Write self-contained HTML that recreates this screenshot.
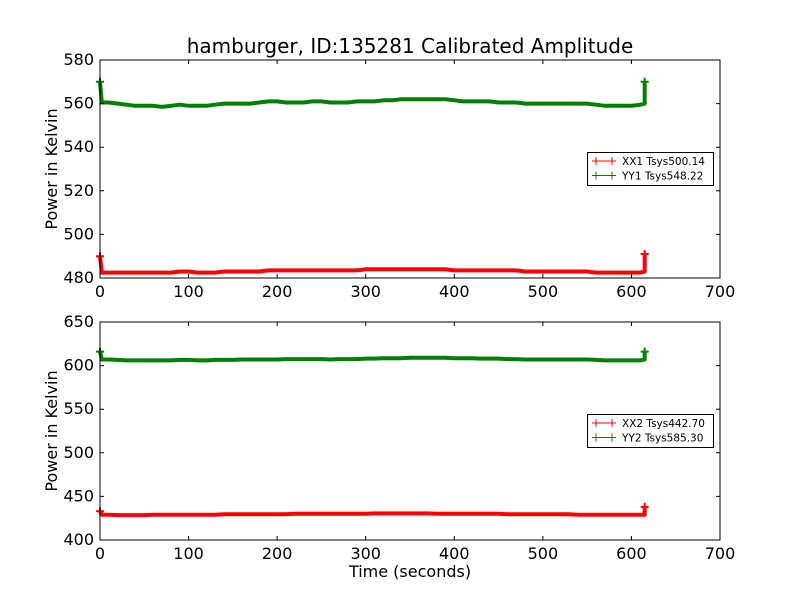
<!DOCTYPE html>
<html><head><meta charset="utf-8"><style>
body{margin:0;background:#fff;}
svg{display:block;font-family:"DejaVu Sans","Liberation Sans",sans-serif;}
</style></head><body>
<svg id="c" width="800" height="600"></svg>
<script>
const times=[0,2,10,20,30,40,50,60,70,80,90,100,110,120,130,140,150,160,170,180,190,200,210,220,230,240,250,260,270,280,290,300,310,320,330,340,350,360,370,380,390,400,410,420,430,440,450,460,470,480,490,500,510,520,530,540,550,560,570,580,590,600,610,615,615];
const yy1=[570,560.5,560.5,560,559.5,559,559,559,558.5,559,559.5,559,559,559,559.5,560,560,560,560,560.5,561,561,560.5,560.5,560.5,561,561,560.5,560.5,560.5,561,561,561,561.5,561.5,562,562,562,562,562,562,561.5,561,561,561,561,560.5,560.5,560.5,560,560,560,560,560,560,560,560,559.5,559,559,559,559,559.5,560,570];
const xx1=[490,482.5,482.5,482.5,482.5,482.5,482.5,482.5,482.5,482.5,483,483,482.5,482.5,482.5,483,483,483,483,483,483.5,483.5,483.5,483.5,483.5,483.5,483.5,483.5,483.5,483.5,483.5,484,484,484,484,484,484,484,484,484,484,483.5,483.5,483.5,483.5,483.5,483.5,483.5,483.5,483,483,483,483,483,483,483,483,482.5,482.5,482.5,482.5,482.5,482.5,483,491];
const yy2=[616,607,607,606.5,606,606,606,606,606,606,606.5,606.5,606,606,606.5,606.5,606.5,607,607,607,607,607,607.5,607.5,607.5,607.5,607.5,607,607.5,607.5,607.5,608,608,608.5,608.5,608.5,609,609,609,609,609,608.5,608.5,608.5,608,608,608,607.5,607.5,607,607,607,607,607,607,607,607,606.5,606,606,606,606,606,607,616];
const xx2=[433,429,429,428.5,428.5,428.5,428.5,429,429,429,429,429,429,429,429,429.5,429.5,429.5,429.5,429.5,429.5,429.5,429.5,430,430,430,430,430,430,430,430,430,430.5,430.5,430.5,430.5,430.5,430.5,430.5,430,430,430,430,430,430,430,430,429.5,429.5,429.5,429.5,429.5,429.5,429.5,429.5,429,429,429,429,429,429,429,429,429,438];
const xTicks=[0,100,200,300,400,500,600,700];
const yTicks1=[480,500,520,540,560,580];
const yTicks2=[400,450,500,550,600,650];
const panels=[
 {top:60,min:480,max:580,ticks:yTicks1,series:[{v:xx1,c:'#ff0000',lbl:'XX1 Tsys500.14'},{v:yy1,c:'#008000',lbl:'YY1 Tsys548.22'}],legY:152,name:'top'},
 {top:322,min:400,max:650,ticks:yTicks2,series:[{v:xx2,c:'#ff0000',lbl:'XX2 Tsys442.70'},{v:yy2,c:'#008000',lbl:'YY2 Tsys585.30'}],legY:414,name:'bottom'}
];
const svg=document.getElementById('c');const NS='http://www.w3.org/2000/svg';
function el(t,a,p){const e=document.createElementNS(NS,t);for(const k in a)e.setAttribute(k,a[k]);(p||svg).appendChild(e);return e;}
const L=100,W=620,H=218;
const t=el('text',{x:410,y:53,'text-anchor':'middle','font-size':20});t.textContent='hamburger, ID:135281 Calibrated Amplitude';

panels.forEach(p=>{
 const g=el('g',{});
 
 const sx=v=>L+v/700*W, sy=v=>p.top+H-(v-p.min)/(p.max-p.min)*H;
 p.series.forEach(s=>{
  const d=times.map((tt,i)=>(i?'L':'M')+sx(tt).toFixed(1)+','+sy(s.v[i]).toFixed(1)).join('');
  const ln=el('path',{d:d,fill:'none',stroke:s.c,'stroke-width':4,'stroke-linejoin':'round'},g);
  
  [0,times.length-1].forEach(i=>{const x=sx(times[i]),y=sy(s.v[i]);
   el('path',{d:`M${x-4},${y}h8M${x},${y-4}v8`,stroke:s.c,'stroke-width':2},g);});
 });
 el('rect',{x:L,y:p.top,width:W,height:H,fill:'none',stroke:'#000','stroke-width':1},g);
 xTicks.forEach(v=>{const x=sx(v);
  el('path',{d:`M${x},${p.top+H}v-4M${x},${p.top}v4`,stroke:'#000'},g);
  const tx=el('text',{x:x,y:p.top+H+19,'text-anchor':'middle','font-size':16},g);tx.textContent=v;
  });
 p.ticks.forEach(v=>{const y=sy(v);
  el('path',{d:`M${L},${y}h4M${L+W},${y}h-4`,stroke:'#000'},g);
  const ty=el('text',{x:L-6,y:y+5,'text-anchor':'end','font-size':16},g);ty.textContent=v;
  });
 const yl=el('text',{transform:`translate(57,${p.top+H/2}) rotate(-90)`,'text-anchor':'middle','font-size':16},g);yl.textContent='Power in Kelvin';
 
 const lg=el('g',{},g);
 el('rect',{x:587.5,y:p.legY+0.5,width:126,height:33,fill:'#fff',stroke:'#000'},lg);
 p.series.forEach((s,i)=>{const y=p.legY+9+i*14.5;
  el('path',{d:`M592,${y}h24M596,${y-4}v8M612,${y-4}v8`,stroke:s.c,'stroke-width':1},lg);
  const lt=el('text',{x:622,y:y+4,'font-size':10.5},lg);lt.textContent=s.lbl;
  });
});
const xl=el('text',{x:410,y:577,'text-anchor':'middle','font-size':16});xl.textContent='Time (seconds)';

</script>
</body></html>
